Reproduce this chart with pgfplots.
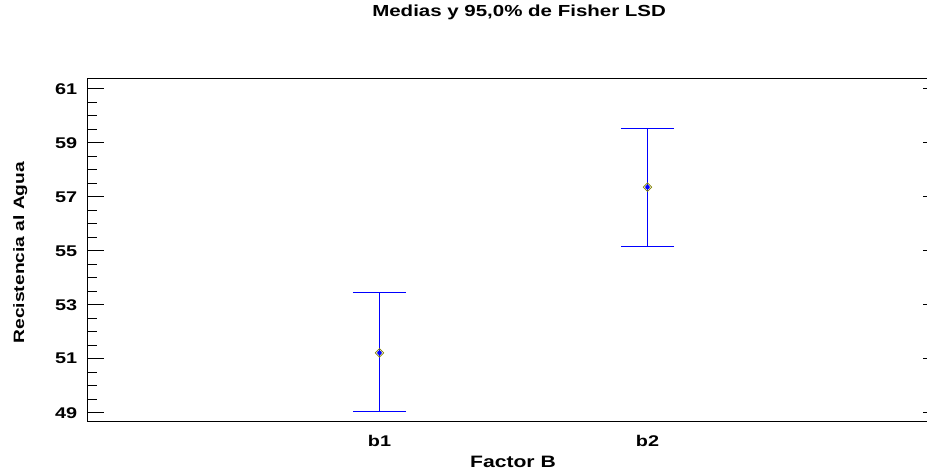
\documentclass[border=0pt]{standalone}
\usepackage{fontspec}
\setmainfont{Liberation Sans}[FakeStretch=1.28]
\usepackage{pgfplots}
\pgfplotsset{compat=1.18}
\definecolor{meanolive}{RGB}{128,128,0}
\definecolor{barblue}{RGB}{0,0,255}
\begin{document}
\begin{tikzpicture}[x=1pt,y=1pt]
\useasboundingbox (0,0) rectangle (927,470);
\begin{axis}[
  at={(88pt,48pt)}, anchor=south west,
  scale only axis, width=851pt, height=343pt,
  xmin=-0.0877, xmax=3.0877,
  ymin=48.655, ymax=61.37,
  axis line style={line width=1pt},
  xtick={1,2}, xticklabels={b1,b2},
  x tick style={draw=none},
  ytick={49,51,53,55,57,59,61},
  minor y tick num=3,
  tick align=inside,
  ytick pos=both,
  y tick style={line width=1pt, black},
  major tick length=16pt, minor tick length=9pt,
  /pgf/number format/assume math mode=true,
  ticklabel style={font=\fontsize{15.5}{18}\selectfont\bfseries, inner sep=0pt},
  yticklabel style={anchor=east, xshift=-10.7pt},
  xticklabel style={anchor=base, yshift=-24.5pt},
  title={Medias y 95,0\% de Fisher LSD},
  title style={font=\fontsize{16}{19}\selectfont\bfseries, at={(axis description cs:0.5066,1.164)}, anchor=base, inner sep=0pt},
  xlabel={Factor B},
  xlabel style={font=\fontsize{16.5}{19}\selectfont\bfseries, at={(axis description cs:0.4994,-0.134)}, anchor=base, inner sep=0pt},
  ylabel={Recistencia al Agua},
  ylabel style={font=\fontsize{15}{18}\selectfont\bfseries, at={(axis description cs:-0.0751,0.494)}, anchor=base, rotate=0, inner sep=0pt},
]
\addplot[barblue, only marks, mark=none,
  error bars/.cd, y dir=both, y explicit,
  error bar style={draw=barblue, line width=1.2pt},
  error mark options={rotate=90, draw=barblue, mark size=26.7pt, line width=1pt}]
  coordinates {(1,51.22) += (0,2.22) -= (0,2.17)
               (2,57.36) += (0,2.17) -= (0,2.20)};
\addplot[only marks, mark=square, mark size=3pt,
  mark options={rotate=45, draw=meanolive, line width=0.7pt, fill=none}]
  coordinates {(1,51.22) (2,57.36)};
\end{axis}
\end{tikzpicture}
\end{document}
